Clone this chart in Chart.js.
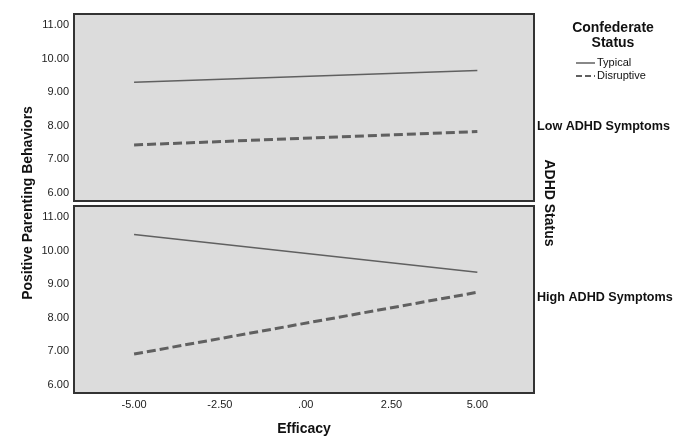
<!DOCTYPE html>
<html>
<head>
<meta charset="utf-8">
<script src="https://cdn.jsdelivr.net/npm/chart.js@4/dist/chart.umd.min.js"></script>
<style>
  html, body { margin: 0; padding: 0; background: #fff; }
  #wrap { position: relative; width: 676px; height: 438px; }
  #wrap canvas { position: absolute; left: 0; top: 0; }
</style>
</head>
<body>
<div id="wrap">
  <canvas id="lowChart" width="676" height="438"></canvas>
  <canvas id="highChart" width="676" height="438"></canvas>
</div>
<script>
// Data
const efficacy = [-5, 5];
const lowTypical = [9.30, 9.65];
const lowDisruptive = [7.43, 7.83];
const highTypical = [10.48, 9.36];
const highDisruptive = [6.92, 8.76];

const yTicks = [6, 7, 8, 9, 10, 11];
const xTicks = [-5, -2.5, 0, 2.5, 5];

const FONT = "'Liberation Sans', Arial, sans-serif";
const LINE_COLOR = "#606060";

function toPoints(ys) {
  return efficacy.map((x, i) => ({ x: x, y: ys[i] }));
}

function spssFormat(v) {
  let s = Number(v).toFixed(2);
  if (s === "0.00" || s === "-0.00") s = ".00";
  return s;
}

// grey panel + dark frame
const panelPlugin = {
  id: "panel",
  beforeDraw(chart) {
    const a = chart.chartArea;
    const ctx = chart.ctx;
    ctx.save();
    ctx.fillStyle = "#dcdcdc";
    ctx.fillRect(a.left, a.top, a.right - a.left, a.bottom - a.top);
    ctx.restore();
  },
  afterDraw(chart) {
    const a = chart.chartArea;
    const ctx = chart.ctx;
    ctx.save();
    ctx.strokeStyle = "#333";
    ctx.lineWidth = 2;
    ctx.strokeRect(a.left, a.top, a.right - a.left, a.bottom - a.top);
    ctx.restore();
  },
};

// shared labels: y title, legend, facet labels
const labelsPlugin = {
  id: "labels",
  afterDraw(chart) {
    const ctx = chart.ctx;
    ctx.save();
    ctx.fillStyle = "#111";
    ctx.textBaseline = "middle";

    // y axis title
    ctx.save();
    ctx.translate(28, 203);
    ctx.rotate(-Math.PI / 2);
    ctx.textAlign = "center";
    ctx.font = "bold 14px " + FONT;
    ctx.fillText("Positive Parenting Behaviors", 0, 0);
    ctx.restore();

    // legend
    ctx.textAlign = "center";
    ctx.font = "bold 14px " + FONT;
    ctx.fillText("Confederate", 613, 28);
    ctx.fillText("Status", 613, 43);

    ctx.strokeStyle = LINE_COLOR;
    ctx.lineWidth = 1.5;
    ctx.beginPath();
    ctx.moveTo(576, 63);
    ctx.lineTo(595, 63);
    ctx.stroke();
    ctx.setLineDash([6, 3]);
    ctx.lineWidth = 2;
    ctx.beginPath();
    ctx.moveTo(576, 76);
    ctx.lineTo(595, 76);
    ctx.stroke();
    ctx.setLineDash([]);

    ctx.textAlign = "left";
    ctx.font = "11px " + FONT;
    ctx.fillText("Typical", 597, 63);
    ctx.fillText("Disruptive", 597, 76);

    // facet labels
    ctx.font = "bold 12.6px " + FONT;
    ctx.fillText("Low ADHD Symptoms", 537, 127);
    ctx.fillText("High ADHD Symptoms", 537, 298);

    ctx.save();
    ctx.translate(549, 203);
    ctx.rotate(Math.PI / 2);
    ctx.textAlign = "center";
    ctx.font = "bold 14px " + FONT;
    ctx.fillText("ADHD Status", 0, 0);
    ctx.restore();

    ctx.restore();
  },
};

function makeDatasets(typical, disruptive) {
  return [
    {
      label: "Typical",
      data: toPoints(typical),
      borderColor: LINE_COLOR,
      borderWidth: 1.5,
      pointRadius: 0,
    },
    {
      label: "Disruptive",
      data: toPoints(disruptive),
      borderColor: LINE_COLOR,
      borderWidth: 3,
      borderDash: [9, 4],
      pointRadius: 0,
    },
  ];
}

function makeOptions(showX, padding) {
  return {
    responsive: false,
    animation: false,
    layout: { padding: padding },
    plugins: { legend: { display: false }, tooltip: { enabled: false } },
    scales: {
      x: {
        type: "linear",
        display: showX,
        min: -6.75,
        max: 6.65,
        grid: { display: false, drawTicks: false },
        border: { display: false },
        afterBuildTicks: (scale) => {
          scale.ticks = xTicks.map((v) => ({ value: v }));
        },
        afterFit: (scale) => {
          scale.height = showX ? 45 : 0;
        },
        ticks: {
          callback: spssFormat,
          color: "#222",
          padding: 5,
          maxRotation: 0,
          font: { family: FONT, size: 11 },
        },
        title: {
          display: true,
          text: "Efficacy",
          color: "#111",
          padding: { top: 8, bottom: 0 },
          font: { family: FONT, size: 14, weight: "bold" },
        },
      },
      y: {
        min: 5.76,
        max: 11.33,
        grid: { display: false, drawTicks: false },
        border: { display: false },
        afterBuildTicks: (scale) => {
          scale.ticks = yTicks.map((v) => ({ value: v }));
        },
        afterFit: (scale) => {
          scale.width = 74;
        },
        ticks: {
          callback: spssFormat,
          color: "#222",
          padding: 5,
          font: { family: FONT, size: 11 },
        },
      },
    },
  };
}

new Chart(document.getElementById("lowChart"), {
  type: "line",
  data: { datasets: makeDatasets(lowTypical, lowDisruptive) },
  options: makeOptions(false, { top: 14, right: 142, bottom: 237, left: 0 }),
  plugins: [panelPlugin],
});

new Chart(document.getElementById("highChart"), {
  type: "line",
  data: { datasets: makeDatasets(highTypical, highDisruptive) },
  options: makeOptions(true, { top: 206, right: 142, bottom: 0, left: 0 }),
  plugins: [panelPlugin, labelsPlugin],
});
</script>
</body>
</html>
